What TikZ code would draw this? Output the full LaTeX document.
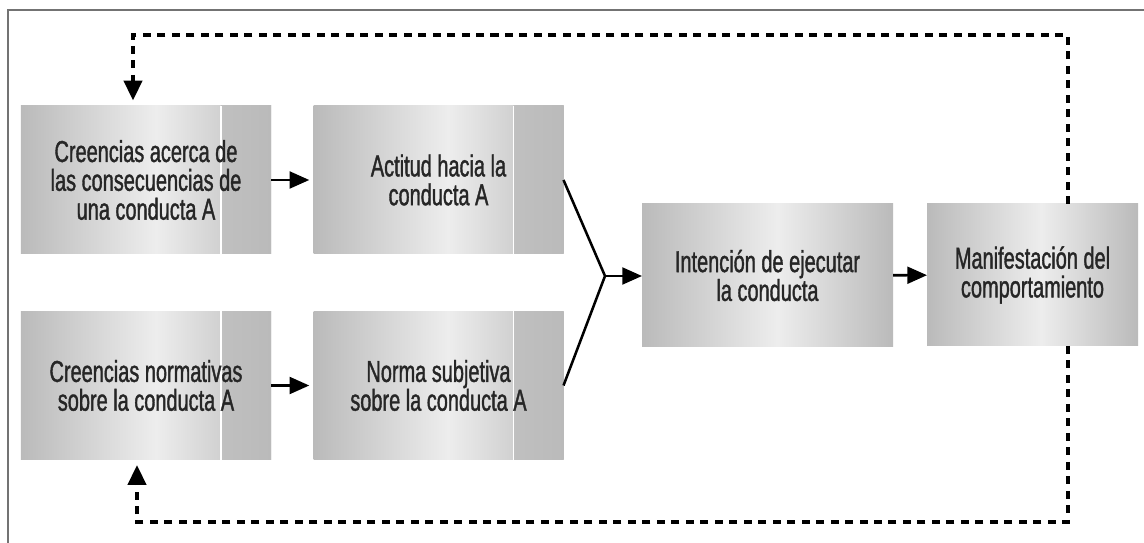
\documentclass[tikz,border=0pt]{standalone}
\usepackage{fontspec}
\setmainfont{Liberation Sans}[FakeStretch=0.66,FakeBold=1.2]
\usetikzlibrary{arrows.meta,calc}
\definecolor{boxdark}{gray}{0.73}
\definecolor{boxlight}{gray}{0.93}
\definecolor{stripleft}{gray}{0.84}
\definecolor{stripright}{gray}{0.73}
\definecolor{framegray}{gray}{0.45}
\pgfdeclarehorizontalshading{boxshade}{100bp}{color(0bp)=(boxdark); color(25bp)=(boxdark); color(52bp)=(boxlight); color(75bp)=(boxdark); color(100bp)=(boxdark)}
\begin{document}
\begin{tikzpicture}[x=0.25mm,y=-0.25mm,
  box/.style={shading=boxshade,inner sep=0pt,outer sep=0pt,align=center,
    text=black!85,font=\fontsize{21.5}{20.5}\selectfont},
  splitbox/.style={box,minimum width=62.5mm,minimum height=37mm,
    path picture={
      \shade[left color=stripleft,right color=stripright]
        ([xshift=-12.5mm]path picture bounding box.north east) rectangle (path picture bounding box.south east);
      \draw[white,line width=0.8pt]
        ([xshift=-12.5mm]path picture bounding box.north east) -- ([xshift=-12.5mm]path picture bounding box.south east);}},
  arr/.style={line width=1.8pt,-{Triangle[length=14pt,width=12pt]}},
  fb/.style={line width=2.2pt,dash pattern=on 5.7pt off 4.6pt,-{Triangle[length=14pt,width=13pt]}}]
\useasboundingbox (0,0) rectangle (1144,543);
\draw[framegray,line width=1.5pt] (8,560) -- (8,10) -- (1160,10);
% boxes
\node[splitbox] (c1) at (146,180) {Creencias acerca de\\las consecuencias de\\una conducta A};
\node[splitbox] (a2) at (438.5,180) {Actitud hacia la\\conducta A};
\node[splitbox] (c3) at (146,385.5) {Creencias normativas\\sobre la conducta A};
\node[splitbox] (n4) at (438.5,385.5) {Norma subjetiva\\sobre la conducta A};
\node[box,minimum width=62.75mm,minimum height=35.75mm] (i5) at (767.5,275.5) {Intención de ejecutar\\la conducta};
\node[box,minimum width=52.75mm,minimum height=35.5mm] (m6) at (1032.5,275) {Manifestación del\\comportamiento};
% arrows
\coordinate (j) at (605,276);
\draw[arr,shorten >=3pt] (c1) -- (a2);
\draw[arr,shorten >=3pt] (c3) -- (n4);
\draw[line width=1.8pt] (a2.east) -- (j) -- (n4.east);
\draw[arr] (j) -- (j -| i5.west);
\draw[arr] (i5) -- (m6);
% feedback
\coordinate (tr) at (1068,35);
\coordinate (tl) at (133,35);
\coordinate (br) at (1068,522);
\coordinate (bl) at (137,522);
\draw[fb,shorten >=4pt] (tr |- m6.north) -- (tr) -- (tl) -- (tl |- c1.north);
\draw[fb,shorten >=4pt] (br |- m6.south) -- (br) -- (bl) -- (bl |- c3.south);
\end{tikzpicture}
\end{document}
